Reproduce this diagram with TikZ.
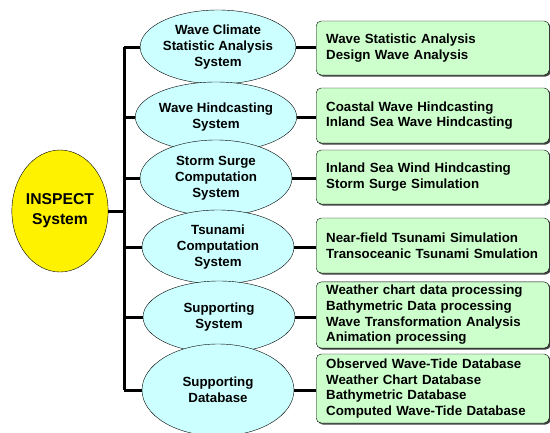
\documentclass[tikz,border=0pt]{standalone}
\usepackage{fontspec}
\setmainfont{Liberation Sans}
\usetikzlibrary{shapes.geometric,shadows}
\definecolor{sysblue}{HTML}{CCFFFF}
\definecolor{funcgreen}{HTML}{CCFFCC}
\tikzset{
  sysell/.style={ellipse,draw,thin,fill=sysblue,inner sep=0pt,minimum width=152pt,align=center,
    font=\bfseries\fontsize{13.3}{15.8}\selectfont},
  funcbox/.style={draw,thin,rounded corners=5pt,fill=funcgreen,anchor=west,minimum width=233pt,
    text width=213pt,inner xsep=10pt,align=left,font=\bfseries\fontsize{13.3}{15.7}\selectfont,
    drop shadow={shadow xshift=1.5pt,shadow yshift=-1.5pt,fill=black!75,opacity=1}},
  link/.style={line width=3pt}
}
\begin{document}
\begin{tikzpicture}[x=1pt,y=-1pt]
\useasboundingbox (0,0) rectangle (550,432);
\node[ellipse,draw,thin,fill=yellow,minimum width=96pt,minimum height=122pt,inner sep=0pt,align=center,
  font=\bfseries\fontsize{15.7}{20}\selectfont] (inspect) at (60,211) {INSPECT\\System};
\coordinate (trunk) at (124,211);
% subsystems
\node[sysell,minimum height=74pt] (climate) at (218,47) {Wave Climate\\Statistic Analysis\\System};
\node[sysell,minimum height=70pt] (hindcast) at (216,117) {Wave Hindcasting\\System};
\node[sysell,minimum height=76pt] (surge) at (216,178) {Storm Surge\\Computation\\System};
\node[sysell,minimum height=74pt] (tsunami) at (218,247) {Tsunami\\Computation\\System};
\node[sysell,minimum height=72pt] (support) at (219,317) {Supporting\\System};
\node[sysell,minimum height=92pt] (database) at (218,390) {Supporting\\Database};
% functions
\node[funcbox,minimum height=54pt] (fclimate) at (316,48) {Wave Statistic Analysis\\Design Wave Analysis};
\node[funcbox,minimum height=55pt] (fhindcast) at (316,115.5) {Coastal Wave Hindcasting\\Inland Sea Wave Hindcasting};
\node[funcbox,minimum height=54pt] (fsurge) at (316,177) {Inland Sea Wind Hindcasting\\Storm Surge Simulation};
\node[funcbox,minimum height=55pt] (ftsunami) at (316,245.5) {Near-field Tsunami Simulation\\Transoceanic Tsunami Smulation};
\node[funcbox,minimum height=66pt] (fsupport) at (316,315) {Weather chart data processing\\Bathymetric Data processing\\Wave Transformation Analysis\\Animation processing};
\node[funcbox,minimum height=69pt] (fdatabase) at (316,388.5) {Observed Wave-Tide Database\\Weather Chart Database\\Bathymetric Database\\Computed Wave-Tide Database};
% connectors
\draw[link] (inspect.east) -- (trunk);
\draw[link] (climate.west -| trunk) -- (database.west -| trunk);
\foreach \s in {climate,hindcast,surge,tsunami,support,database}{
  \draw[link] (\s.west -| trunk) -- (\s.west);
  \draw[link] (\s.east) -- (\s.east -| f\s.west);
}
\end{tikzpicture}
\end{document}
